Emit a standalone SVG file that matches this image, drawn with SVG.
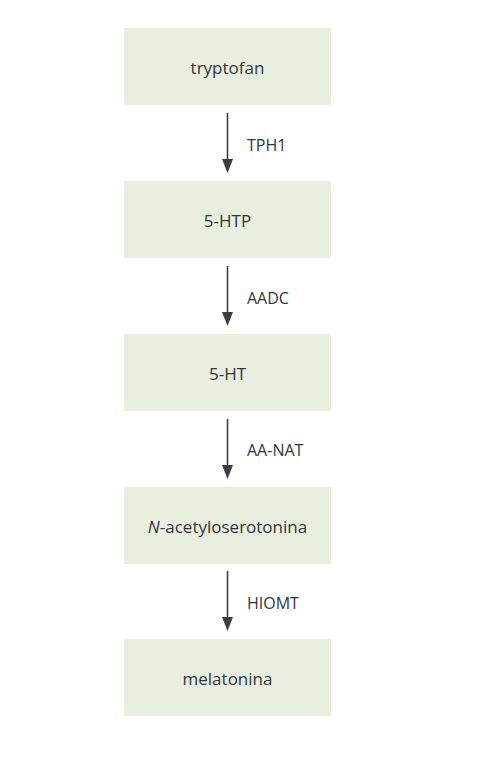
<svg xmlns="http://www.w3.org/2000/svg" width="487" height="758" viewBox="0 0 487 758">
<style>
.box{fill:#e9efdf}
.t{font-family:"Open Sans","Liberation Sans",sans-serif;font-size:17px;fill:#33343c;text-anchor:middle}
.l{font-family:"Open Sans","Liberation Sans",sans-serif;font-size:16px;fill:#33343c}
.c{stroke:#3a3c44;stroke-width:1.6;fill:none}
.ah{fill:#3a3c44}
</style>
<rect width="487" height="758" fill="#fff"/>
<g id="n1"><rect class="box" x="124" y="28" width="207" height="77"/><text class="t" x="227.5" y="74">tryptofan</text></g>
<g id="n2"><rect class="box" x="124" y="181" width="207" height="77"/><text class="t" x="227.5" y="227">5-HTP</text></g>
<g id="n3"><rect class="box" x="124" y="334" width="207" height="77"/><text class="t" x="227.5" y="380">5-HT</text></g>
<g id="n4"><rect class="box" x="124" y="487" width="207" height="77"/><text class="t" x="227.5" y="533"><tspan font-style="italic">N</tspan>-acetyloserotonina</text></g>
<g id="n5"><rect class="box" x="124" y="639" width="207" height="77"/><text class="t" x="227.5" y="685">melatonina</text></g>
<g id="connectors">
<line class="c" x1="227.5" y1="113" x2="227.5" y2="162"/><path class="ah" d="M222,159 L227.5,173 L233,159 Z"/>
<line class="c" x1="227.5" y1="266" x2="227.5" y2="315"/><path class="ah" d="M222,312 L227.5,326 L233,312 Z"/>
<line class="c" x1="227.5" y1="419" x2="227.5" y2="468"/><path class="ah" d="M222,465 L227.5,479 L233,465 Z"/>
<line class="c" x1="227.5" y1="571" x2="227.5" y2="620"/><path class="ah" d="M222,617 L227.5,631 L233,617 Z"/>
<text class="l" x="247" y="151">TPH1</text>
<text class="l" x="247" y="304">AADC</text>
<text class="l" x="247" y="456">AA-NAT</text>
<text class="l" x="247" y="609">HIOMT</text>
</g>
</svg>
